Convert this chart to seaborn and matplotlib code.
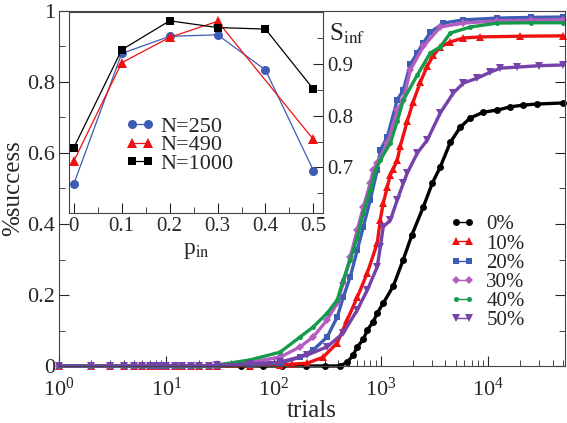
import numpy as np
import pandas as pd
import seaborn as sns
import matplotlib.pyplot as plt
from matplotlib.ticker import MultipleLocator, FixedLocator

# data
zero_trials = [1, 2, 3, 4, 5, 6, 7, 8, 9, 10, 12, 14, 17, 20, 25]

t_0 = [30, 50, 80, 120, 200, 300, 418, 486, 550, 603, 686, 747, 850, 925, 1052, 1305,
       1618, 1950, 2486, 3016, 3581, 4440, 5506, 6825, 9020, 12180, 16100, 21300, 28700, 50300]
s_0 = [0, 0, 0, 0, 0, 0, 0.0, 0.011, 0.03, 0.054, 0.075, 0.101, 0.125, 0.149, 0.177, 0.225,
       0.30, 0.37, 0.448, 0.515, 0.561, 0.63, 0.673, 0.699, 0.715, 0.721, 0.730, 0.735, 0.738, 0.741]

t_10 = [30, 60, 115, 150, 206, 290, 392, 486, 603, 747, 925, 987, 1052, 1148, 1225, 1305,
        1422, 1518, 1763, 2005, 2333, 2710, 3083, 3581, 4440, 5870, 8460, 20000, 50300]
s_10 = [0, 0.001, 0.003, 0.005, 0.008, 0.025, 0.065, 0.13, 0.194, 0.262, 0.346, 0.411, 0.459,
        0.504, 0.538, 0.555, 0.58, 0.62, 0.69, 0.745, 0.80, 0.845, 0.875, 0.899, 0.913, 0.924,
        0.927, 0.929, 0.930]

t_20 = [30, 60, 115, 177, 234, 316, 392, 446, 518, 603, 686, 796, 925, 987, 1148, 1422,
        1618, 1881, 2188, 2486, 2891, 3820, 5870, 12180, 25000, 50300]
s_20 = [0, 0.004, 0.008, 0.025, 0.045, 0.082, 0.138, 0.194, 0.251, 0.327, 0.392, 0.468,
        0.552, 0.608, 0.645, 0.75, 0.777, 0.85, 0.882, 0.91, 0.94, 0.966, 0.975, 0.980,
        0.982, 0.983]

t_30 = [30, 60, 115, 177, 234, 316, 392, 446, 518, 603, 686, 796, 849, 925, 1148, 1422,
        1618, 1881, 2486, 3581, 5870, 12000, 25000, 50300]
s_30 = [0.002, 0.01, 0.025, 0.054, 0.082, 0.13, 0.177, 0.234, 0.307, 0.383, 0.448, 0.515,
        0.552, 0.572, 0.628, 0.72, 0.75, 0.834, 0.90, 0.955, 0.966, 0.972, 0.974, 0.975]

t_40 = [30, 60, 115, 177, 234, 316, 392, 446, 518, 603, 686, 796, 887, 987, 1225, 1422,
        1618, 2188, 2891, 3581, 4440, 6825, 12180, 25000, 50300]
s_40 = [0.003, 0.017, 0.039, 0.082, 0.11, 0.149, 0.186, 0.242, 0.299, 0.363, 0.431, 0.496,
        0.552, 0.58, 0.628, 0.69, 0.749, 0.82, 0.882, 0.899, 0.938, 0.955, 0.966, 0.967, 0.967]

t_50 = [30, 60, 115, 206, 316, 446, 603, 747, 925, 987, 1052, 1225, 1422, 1618, 1763, 2188,
        2710, 3581, 4733, 5870, 7930, 10490, 13000, 18700, 30000, 50300]
s_50 = [0.002, 0.006, 0.011, 0.031, 0.054, 0.093, 0.158, 0.214, 0.279, 0.335, 0.392, 0.411,
        0.468, 0.515, 0.544, 0.60, 0.637, 0.713, 0.769, 0.797, 0.811, 0.828, 0.839, 0.842,
        0.846, 0.848]

series_labels = ["0%", "10%", "20%", "30%", "40%", "50%"]
series_t = [t_0, t_10, t_20, t_30, t_40, t_50]
series_s = [s_0, s_10, s_20, s_30, s_40, s_50]

# inset: S_inf vs p_in
p_in = [0, 0.1, 0.2, 0.3, 0.4, 0.5]
sinf_250 = [0.668, 0.920, 0.953, 0.956, 0.888, 0.694]
p_490 = [0, 0.1, 0.2, 0.3, 0.5]
sinf_490 = [0.712, 0.902, 0.951, 0.982, 0.754]
sinf_1000 = [0.738, 0.927, 0.983, 0.970, 0.967, 0.851]

sns.set_style("ticks")
plt.rcParams['font.family'] = ['Liberation Serif', 'DejaVu Serif']
plt.rcParams['mathtext.fontset'] = 'stix'

colors = ["black", "#ee1111", "#3d5cb3", "#b45cbf", "#169a4c", "#7442a8"]
markers = ["o", "^", "s", "D", "o", "v"]
msizes = [5, 5.5, 4.2, 4, 3.6, 5.5]

fig = plt.figure(figsize=(5.67, 4.23), dpi=100)
ax = fig.add_axes([59/567, 1-366/423, 506/567, 355/423])

for lab, t, s, c, m, ms in zip(series_labels, series_t, series_s, colors, markers, msizes):
    tt = zero_trials + [v for v in t if v > 25]
    ss = [0.0]*len(zero_trials) + [v for v, tv in zip(s, t) if tv > 25]
    df = pd.DataFrame({"trials": tt, "success": ss})
    sns.lineplot(data=df, x="trials", y="success", ax=ax, color=c, marker=m,
                 markersize=ms, markeredgewidth=0, linewidth=2.4, estimator=None,
                 label=lab, clip_on=False)

ax.set_xscale("log")
ax.set_xlim(1, 5.2e4)
ax.set_ylim(0, 1)
ax.set_yticks([0, 0.2, 0.4, 0.6, 0.8, 1.0])
ax.set_yticklabels(["0", "0.2", "0.4", "0.6", "0.8", "1"])
ax.yaxis.set_minor_locator(MultipleLocator(0.1))
ax.tick_params(which="both", direction="in", right=True, labelsize=16)
ax.tick_params(axis="y", pad=3)
ax.tick_params(axis="x", pad=8)
ax.tick_params(which="major", length=7)
ax.tick_params(which="minor", length=4)
ax.set_xlabel("trials", fontsize=18, labelpad=0)
ax.set_ylabel("%success", fontsize=18, labelpad=2)
for sp in ax.spines.values():
    sp.set_color("#444444")

leg = ax.legend(loc="upper left", bbox_to_anchor=(0.752, 0.455), frameon=False,
                numpoints=2, fontsize=15, handlelength=1.2, handletextpad=0.55,
                labelspacing=-0.02, borderpad=0)
for h in leg.get_lines():
    h.set_linewidth(1.0)

# inset
axi = fig.add_axes([69/567, 1-213/423, 254/567, 201/423])
axi.set_facecolor("white")
sns.lineplot(x=p_in, y=sinf_250, ax=axi, color="#3d5cb3", marker="o", markersize=6.5,
             markeredgewidth=0, linewidth=0.9, label="N=250")
sns.lineplot(x=p_490, y=sinf_490, ax=axi, color="#ee1111", marker="^", markersize=7,
             markeredgewidth=0, linewidth=0.9, label="N=490")
sns.lineplot(x=p_in, y=sinf_1000, ax=axi, color="black", marker="s", markersize=6,
             markeredgewidth=0, linewidth=0.9, label="N=1000")
axi.set_xlim(-0.01, 0.52)
axi.set_ylim(0.612, 1.0)
axi.set_xticks(p_in)
axi.set_xticklabels(["0", "0.1", "0.2", "0.3", "0.4", "0.5"])
axi.xaxis.set_minor_locator(FixedLocator([0.05, 0.15, 0.25, 0.35, 0.45]))
axi.set_yticks([0.7, 0.8, 0.9])
axi.yaxis.set_minor_locator(FixedLocator([0.65, 0.75, 0.85, 0.95]))
axi.yaxis.tick_right()
axi.tick_params(which="both", direction="in", labelsize=15, pad=3)
axi.tick_params(which="major", length=7)
axi.tick_params(which="minor", length=4)
axi.set_xlabel(r"p$_{\rm in}$", fontsize=17, labelpad=3)
axi.set_ylabel("")
axi.text(1.025, 0.89, r"S$_{\rm inf}$", transform=axi.transAxes, fontsize=18,
         ha="left", va="center")
for sp in axi.spines.values():
    sp.set_color("#444444")
axi.legend(loc="upper left", bbox_to_anchor=(0.18, 0.535), frameon=False, numpoints=2,
           fontsize=16, handlelength=1.3, handletextpad=0.25, labelspacing=-0.1,
           borderpad=0)

fig.savefig("out.png", dpi=100)
